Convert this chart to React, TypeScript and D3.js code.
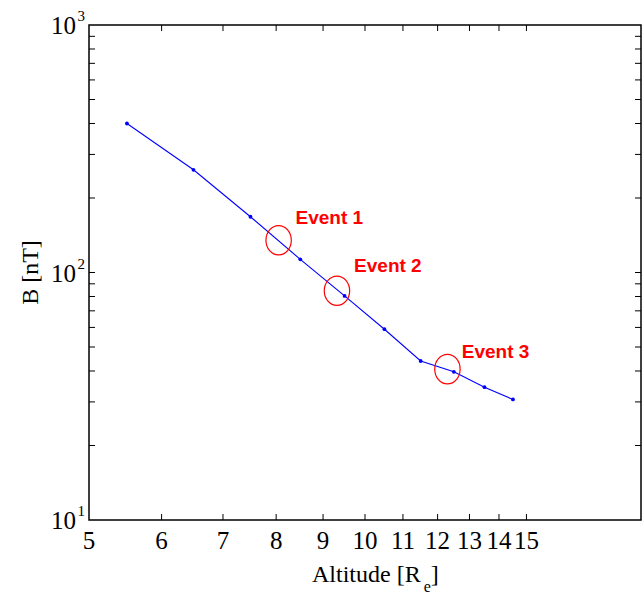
import React from "react";
import * as d3 from "d3";

const altitudes = [5.5, 6.5, 7.5, 8.5, 9.5, 10.5, 11.5, 12.5, 13.5, 14.5];
const fieldB = [400, 260, 168, 113, 80.4, 59, 43.9, 39.7, 34.4, 30.7];
const xTickValues = [5, 6, 7, 8, 9, 10, 11, 12, 13, 14, 15];
const yMajorTicks = [10, 100, 1000];
const yExponents = ["1", "2", "3"];
const eventNames = ["Event 1", "Event 2", "Event 3"];
const eventX = [8.05, 9.32, 12.3];
const eventY = [135, 84.4, 40.7];
const eventLabelX = [8.4, 9.73, 12.75];
const eventLabelY = [157, 100.4, 45];

const W = 644;
const H = 594;
const L = 89, R = 641, T = 25, B = 520;

export default function App() {
  const x = d3.scaleLog().domain([5, 20]).range([L, R]);
  const y = d3.scaleLog().domain([10, 1000]).range([B, T]);
  const line = d3
    .line<number>()
    .x((_, i) => x(altitudes[i]))
    .y((d) => y(d));

  const yMinor: number[] = [];
  for (const base of [10, 100]) {
    for (let k = 2; k <= 9; k++) yMinor.push(base * k);
  }
  const tl = 6;
  const serif = "'Liberation Serif', 'Times New Roman', serif";
  const sans = "'Liberation Sans', Arial, Helvetica, sans-serif";

  return (
    <svg
      width={W}
      height={H}
      style={{ position: "absolute", left: 0, top: 0, background: "#fff" }}
    >
      <rect x={0} y={0} width={W} height={H} fill="#fff" />
      {/* ticks */}
      <g stroke="#000" strokeWidth={1}>
        {xTickValues.slice(1).map((v) => (
          <g key={"xt" + v}>
            <line x1={x(v)} x2={x(v)} y1={B} y2={B - tl} />
            <line x1={x(v)} x2={x(v)} y1={T} y2={T + tl} />
          </g>
        ))}
        {[...yMinor, 100].map((v) => (
          <g key={"yt" + v}>
            <line x1={L} x2={L + tl} y1={y(v)} y2={y(v)} />
            <line x1={R} x2={R - tl} y1={y(v)} y2={y(v)} />
          </g>
        ))}
      </g>
      <rect
        x={L}
        y={T}
        width={R - L}
        height={B - T}
        fill="none"
        stroke="#000"
        strokeWidth={1.5}
      />
      {/* x tick labels */}
      <g fontFamily={serif} fontSize={25} fill="#000" textAnchor="middle">
        {xTickValues.map((v) => (
          <text key={"xl" + v} x={x(v)} y={549}>
            {v}
          </text>
        ))}
      </g>
      {/* y tick labels */}
      <g fontFamily={serif} fill="#000">
        {yMajorTicks.map((v) => (
          <text key={"yl" + v} x={76} y={y(v) + 9} textAnchor="end" fontSize={25}>
            10
          </text>
        ))}
        {yMajorTicks.map((v, i) => (
          <text key={"ye" + v} x={77.5} y={y(v) - 4} fontSize={15}>
            {yExponents[i]}
          </text>
        ))}
      </g>
      {/* axis labels */}
      <text
        fontFamily={serif}
        fontSize={24}
        fill="#000"
        x={312}
        y={582}
      >
        Altitude [R
        <tspan fontSize={16} dy={10} dx={3}>
          e
        </tspan>
        <tspan dy={-10}>]</tspan>
      </text>
      <text
        fontFamily={serif}
        fontSize={24}
        fill="#000"
        textAnchor="middle"
        transform={`translate(38, ${(T + B) / 2}) rotate(-90)`}
      >
        B [nT]
      </text>
      {/* data line */}
      <path d={line(fieldB) || ""} fill="none" stroke="#0000ff" strokeWidth={1.1} />
      {fieldB.map((v, i) => (
        <circle key={"p" + i} cx={x(altitudes[i])} cy={y(v)} r={1.9} fill="#0000ff" />
      ))}
      {/* events */}
      {eventNames.map((n, i) => (
        <g key={n}>
          <ellipse
            cx={x(eventX[i])}
            cy={y(eventY[i])}
            rx={12.7}
            ry={14.7}
            fill="none"
            stroke="#ff0000"
            strokeWidth={1.2}
          />
          <text
            x={x(eventLabelX[i])}
            y={y(eventLabelY[i])}
            fontFamily={sans}
            fontWeight="bold"
            fontSize={19}
            fill="#ff0000"
          >
            {n}
          </text>
        </g>
      ))}
    </svg>
  );
}
